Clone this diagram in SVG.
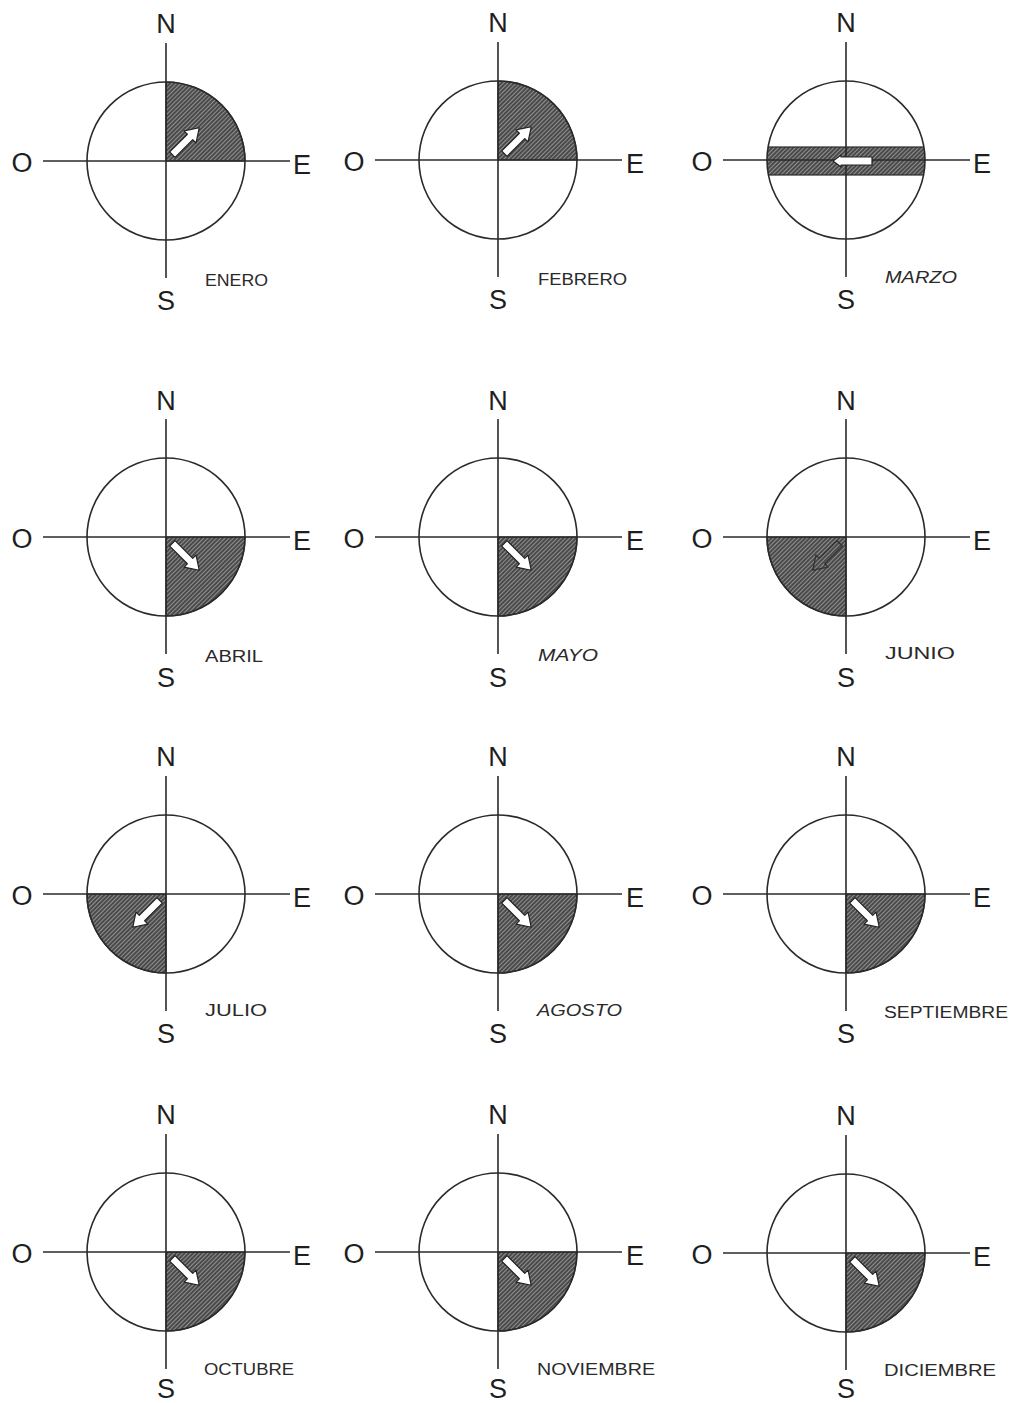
<svg xmlns="http://www.w3.org/2000/svg" xmlns:xlink="http://www.w3.org/1999/xlink" width="1013" height="1403" viewBox="0 0 1013 1403">
<style>
.ax{stroke:#2a2a2a;stroke-width:1.6;fill:none}
.ring{stroke:#2a2a2a;stroke-width:1.6;fill:none}
.sh{fill:url(#hatch);stroke:#2a2a2a;stroke-width:1.2}
.arw{fill:#ffffff;stroke:#222;stroke-width:1.2;stroke-linejoin:round}
.arwo{fill:none;stroke:#333;stroke-width:1.3;stroke-linejoin:round}
.cd{font-family:"Liberation Sans",Arial,sans-serif;font-size:27px;fill:#1e1e1e;text-anchor:middle}
.mo{font-family:"Liberation Sans",Arial,sans-serif;font-size:16px;fill:#2a2a2a}
</style>
<defs>
<pattern id="hatch" width="3" height="3" patternUnits="userSpaceOnUse" patternTransform="rotate(45)">
<rect width="3" height="3" fill="#4a4a4a"/>
<line x1="0.5" y1="0" x2="0.5" y2="3" stroke="#909090" stroke-width="1"/>
</pattern>
<path id="arr" d="M9,-3.8 H34 V-8.5 L47,0 L34,8.5 V3.8 H9 Z"/>
<clipPath id="cc"><circle cx="0" cy="0" r="79"/></clipPath>
<g id="rose">
<circle class="ring" cx="0" cy="0" r="79"/>
<line class="ax" x1="0" y1="-118" x2="0" y2="117"/>
<line class="ax" x1="-123" y1="0" x2="124" y2="0"/>
</g>
</defs>
<rect width="1013" height="1403" fill="#ffffff"/>

<g id="enero" transform="translate(166,161)">
<path class="sh" d="M0,0 V-79 A79,79 0 0 1 79,0 Z"/>
<use xlink:href="#rose"/>
<use xlink:href="#arr" class="arw" transform="rotate(-45)"/>
<text class="cd" x="0" y="-128">N</text><text class="cd" x="-144" y="11">O</text><text class="cd" x="136" y="13">E</text><text class="cd" x="0" y="149">S</text>
<text class="mo" x="39" y="125" textLength="63" lengthAdjust="spacingAndGlyphs">ENERO</text>
</g>

<g id="febrero" transform="translate(498,160)">
<path class="sh" d="M0,0 V-79 A79,79 0 0 1 79,0 Z"/>
<use xlink:href="#rose"/>
<use xlink:href="#arr" class="arw" transform="rotate(-45)"/>
<text class="cd" x="0" y="-128">N</text><text class="cd" x="-144" y="11">O</text><text class="cd" x="137" y="13">E</text><text class="cd" x="0" y="149">S</text>
<text class="mo" x="40" y="125" textLength="89" lengthAdjust="spacingAndGlyphs">FEBRERO</text>
</g>

<g id="marzo" transform="translate(846,160)">
<rect class="sh" x="-80" y="-13" width="160" height="28" clip-path="url(#cc)"/>
<use xlink:href="#rose"/>
<path class="arw" d="M-13,1 L-5,-5 V-3 H26 V5 H-5 V7 Z"/>
<text class="cd" x="0" y="-128">N</text><text class="cd" x="-144" y="11">O</text><text class="cd" x="136" y="13">E</text><text class="cd" x="0" y="149">S</text>
<text class="mo" x="39" y="123" textLength="72" lengthAdjust="spacingAndGlyphs" font-style="italic">MARZO</text>
</g>

<g id="abril" transform="translate(166,537)">
<path class="sh" d="M0,0 H79 A79,79 0 0 1 0,79 Z"/>
<use xlink:href="#rose"/>
<use xlink:href="#arr" class="arw" transform="rotate(45)"/>
<text class="cd" x="0" y="-127">N</text><text class="cd" x="-144" y="11">O</text><text class="cd" x="136" y="13">E</text><text class="cd" x="0" y="150">S</text>
<text class="mo" x="39" y="125" textLength="58" lengthAdjust="spacingAndGlyphs">ABRIL</text>
</g>

<g id="mayo" transform="translate(498,537)">
<path class="sh" d="M0,0 H79 A79,79 0 0 1 0,79 Z"/>
<use xlink:href="#rose"/>
<use xlink:href="#arr" class="arw" transform="rotate(45)"/>
<text class="cd" x="0" y="-127">N</text><text class="cd" x="-144" y="11">O</text><text class="cd" x="137" y="13">E</text><text class="cd" x="0" y="150">S</text>
<text class="mo" x="40" y="124" textLength="60" lengthAdjust="spacingAndGlyphs" font-style="italic">MAYO</text>
</g>

<g id="junio" transform="translate(846,537)">
<path class="sh" d="M0,0 V79 A79,79 0 0 1 -79,0 Z"/>
<use xlink:href="#rose"/>
<use xlink:href="#arr" class="arwo" transform="rotate(135)"/>
<text class="cd" x="0" y="-127">N</text><text class="cd" x="-144" y="11">O</text><text class="cd" x="136" y="13">E</text><text class="cd" x="0" y="150">S</text>
<text class="mo" x="39" y="122" textLength="70" lengthAdjust="spacingAndGlyphs">JUNIO</text>
</g>

<g id="julio" transform="translate(166,894)">
<path class="sh" d="M0,0 V79 A79,79 0 0 1 -79,0 Z"/>
<use xlink:href="#rose"/>
<use xlink:href="#arr" class="arw" transform="rotate(135)"/>
<text class="cd" x="0" y="-128">N</text><text class="cd" x="-144" y="11">O</text><text class="cd" x="136" y="13">E</text><text class="cd" x="0" y="149">S</text>
<text class="mo" x="39" y="122" textLength="62" lengthAdjust="spacingAndGlyphs">JULIO</text>
</g>

<g id="agosto" transform="translate(498,894)">
<path class="sh" d="M0,0 H79 A79,79 0 0 1 0,79 Z"/>
<use xlink:href="#rose"/>
<use xlink:href="#arr" class="arw" transform="rotate(45)"/>
<text class="cd" x="0" y="-128">N</text><text class="cd" x="-144" y="11">O</text><text class="cd" x="137" y="13">E</text><text class="cd" x="0" y="149">S</text>
<text class="mo" x="39" y="122" textLength="85" lengthAdjust="spacingAndGlyphs" font-style="italic">AGOSTO</text>
</g>

<g id="septiembre" transform="translate(846,894)">
<path class="sh" d="M0,0 H79 A79,79 0 0 1 0,79 Z"/>
<use xlink:href="#rose"/>
<use xlink:href="#arr" class="arw" transform="rotate(45)"/>
<text class="cd" x="0" y="-128">N</text><text class="cd" x="-144" y="11">O</text><text class="cd" x="136" y="13">E</text><text class="cd" x="0" y="149">S</text>
<text class="mo" x="38" y="124" textLength="124" lengthAdjust="spacingAndGlyphs">SEPTIEMBRE</text>
</g>

<g id="octubre" transform="translate(166,1252)">
<path class="sh" d="M0,0 H79 A79,79 0 0 1 0,79 Z"/>
<use xlink:href="#rose"/>
<use xlink:href="#arr" class="arw" transform="rotate(45)"/>
<text class="cd" x="0" y="-128">N</text><text class="cd" x="-144" y="11">O</text><text class="cd" x="136" y="13">E</text><text class="cd" x="0" y="146">S</text>
<text class="mo" x="38" y="123" textLength="90" lengthAdjust="spacingAndGlyphs">OCTUBRE</text>
</g>

<g id="noviembre" transform="translate(498,1252)">
<path class="sh" d="M0,0 H79 A79,79 0 0 1 0,79 Z"/>
<use xlink:href="#rose"/>
<use xlink:href="#arr" class="arw" transform="rotate(45)"/>
<text class="cd" x="0" y="-128">N</text><text class="cd" x="-144" y="11">O</text><text class="cd" x="137" y="13">E</text><text class="cd" x="0" y="146">S</text>
<text class="mo" x="39" y="123" textLength="118" lengthAdjust="spacingAndGlyphs">NOVIEMBRE</text>
</g>

<g id="diciembre" transform="translate(846,1253)">
<path class="sh" d="M0,0 H79 A79,79 0 0 1 0,79 Z"/>
<use xlink:href="#rose"/>
<use xlink:href="#arr" class="arw" transform="rotate(45)"/>
<text class="cd" x="0" y="-128">N</text><text class="cd" x="-144" y="11">O</text><text class="cd" x="136" y="13">E</text><text class="cd" x="0" y="145">S</text>
<text class="mo" x="38" y="123" textLength="112" lengthAdjust="spacingAndGlyphs">DICIEMBRE</text>
</g>

<g id="connectors"></g>
</svg>
